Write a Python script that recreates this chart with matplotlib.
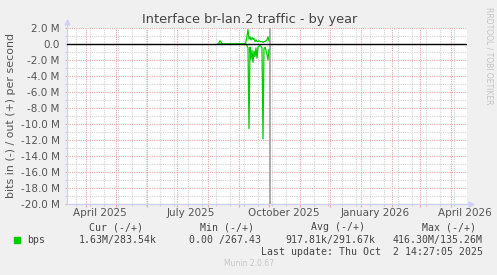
import numpy as np
import matplotlib
matplotlib.use('Agg')
import matplotlib.pyplot as plt
import matplotlib.dates as mdates
from matplotlib.ticker import FuncFormatter, MultipleLocator

# daily samples in bits per second; "in" is drawn below zero
days = ['2025-08-11', '2025-08-12', '2025-08-13', '2025-08-14', '2025-08-15',
        '2025-09-07', '2025-09-08', '2025-09-09', '2025-09-10', '2025-09-11',
        '2025-09-12', '2025-09-13', '2025-09-14', '2025-09-15', '2025-09-16',
        '2025-09-17', '2025-09-18', '2025-09-19', '2025-09-20', '2025-09-21',
        '2025-09-22', '2025-09-23', '2025-09-24', '2025-09-25', '2025-09-26',
        '2025-09-27', '2025-09-28', '2025-09-29', '2025-09-30', '2025-10-01']
out_mbps = [0.0, 0.15, 0.4, 0.25, 0.0,
            0.0, 0.3, 1.0, 1.8, 0.6,
            0.9, 0.5, 0.8, 0.6, 0.7,
            0.3, 0.5, 0.3, 0.3, 0.4,
            0.3, 0.3, 0.3, 0.2, 0.3,
            0.3, 0.4, 0.5, 0.9, 0.4]
in_mbps = [0.0, 0.0, 0.0, 0.0, 0.0,
           0.0, 0.0, 0.2, 0.5, 10.6,
           0.4, 1.9, 0.8, 2.3, 0.9,
           1.6, 0.5, 1.8, 0.4, 0.3,
           0.2, 0.3, 0.5, 11.9, 0.6,
           0.4, 0.8, 1.3, 2.0, 0.7]

x_start = '2025-03-13'
x_end = '2026-04-17'
last_update = '2025-10-02'
month_labels = ['April 2025', 'July 2025', 'October 2025', 'January 2026', 'April 2026']
label_days = ['2025-04-15', '2025-07-15', '2025-10-16', '2026-01-15', '2026-04-15']
legend_heads = ['Cur (-/+)', 'Min (-/+)', 'Avg (-/+)', 'Max (-/+)']
legend_vals = ['1.63M/283.54k', '0.00 /267.43', '917.81k/291.67k', '416.30M/135.26M']
update_text = 'Last update: Thu Oct  2 14:27:05 2025'

plt.rcParams['axes.unicode_minus'] = False
plt.rcParams['font.family'] = 'DejaVu Sans'

W, H = 497, 275
fig = plt.figure(figsize=(W / 100, H / 100), dpi=100, facecolor='#F0F0F0')
ax = fig.add_axes([67 / W, 1 - 203.5 / H, 400 / W, 175.5 / H])
ax.set_facecolor('white')

d = np.array(days, dtype='datetime64[D]').astype('O')
out_v = np.array(out_mbps) * 1e6
in_v = np.array(in_mbps) * 1e6

ax.plot(d, out_v, color='#00CC00', lw=0.9, zorder=4)
ax.plot(d, -in_v, color='#00CC00', lw=0.9, zorder=4)
ax.axhline(0, color='black', lw=1.0, zorder=5)
ax.axvline(np.datetime64(last_update).astype('O'), color='#A0A0A0', lw=1.2, zorder=3)

ax.set_xlim(np.datetime64(x_start).astype('O'), np.datetime64(x_end).astype('O'))
ax.set_ylim(-20e6, 2e6)

ax.yaxis.set_major_locator(MultipleLocator(2e6))
ax.yaxis.set_minor_locator(MultipleLocator(1e6))
ax.yaxis.set_major_formatter(FuncFormatter(
    lambda v, p: '0.0' if abs(v) < 1 else '%.1f M' % (v / 1e6)))

ax.xaxis.set_major_locator(mdates.MonthLocator())
minor = np.arange(np.datetime64('2025-03-22'), np.datetime64(x_end), 14).astype('O')
ax.set_xticks(minor, minor=True)
ax.xaxis.set_major_formatter(FuncFormatter(lambda v, p: ''))

ax.grid(which='major', color='#E6A8A8', ls=(0, (1, 1)), lw=0.8)
ax.grid(which='minor', color='#D4D4D4', ls=(0, (1, 1)), lw=0.8)
ax.set_axisbelow(True)

ax.tick_params(axis='y', which='major', length=1.5, width=0.8, color='#E6A8A8',
               labelsize=7.5, labelcolor='#555555', pad=3.8)
ax.tick_params(axis='y', which='minor', length=1.5, width=0.8, color='#C8C8C8')
ax.tick_params(axis='x', which='major', length=2.5, width=0.8, color='#E6A8A8')
ax.tick_params(axis='x', which='minor', length=1.5, width=0.8, color='#C8C8C8')

for s in ['top', 'right']:
    ax.spines[s].set_visible(False)
for s in ['left', 'bottom']:
    ax.spines[s].set_color('#D0D0F8')
    ax.spines[s].set_linewidth(1.0)

# axis arrows
ax.plot([0, 0], [1, 1.03], color='#D0D0F8', lw=1, transform=ax.transAxes, clip_on=False)
ax.plot(0, 1.032, marker='^', ms=3.5, color='#D0D0F8', transform=ax.transAxes, clip_on=False)
ax.plot([1, 1.008], [0, 0], color='#D0D0F8', lw=1, transform=ax.transAxes, clip_on=False)
ax.plot(1.01, 0, marker='>', ms=3.5, color='#D0D0F8', transform=ax.transAxes, clip_on=False)

tr = ax.get_xaxis_transform()
for lab, dd in zip(month_labels, label_days):
    ax.text(np.datetime64(dd).astype('O'), -0.055, lab, transform=tr, ha='center',
            va='center', fontsize=7.5, color='#555555', clip_on=False)

def fx(x):
    return x / W

def fy(y):
    return 1 - y / H

fig.text(fx(250), fy(19), 'Interface br-lan.2 traffic - by year', ha='center',
         va='center', fontsize=9.3, color='#444444')
fig.text(fx(11), fy(115), 'bits in (-) / out (+) per second', rotation=90,
         ha='center', va='center', fontsize=7.9, color='#555555')
fig.text(fx(489), fy(56), 'RRDTOOL / TOBI OETIKER', rotation=270, ha='center',
         va='center', fontsize=5.5, color='#C4C4C4')

mono = 'DejaVu Sans Mono'
head_x = [116, 227, 338, 449]
val_right = [157, 261, 375, 483]
for h, x in zip(legend_heads, head_x):
    fig.text(fx(x), fy(227), h, ha='center', va='center', family=mono,
             fontsize=7.1, color='#444444')
fig.patches.append(plt.Rectangle((fx(14), fy(243)), 6 / W, 6 / H, color='#00CC00',
                                 transform=fig.transFigure, figure=fig))
fig.text(fx(27), fy(240), 'bps', ha='left', va='center', family=mono,
         fontsize=7.1, color='#444444')
for v, x in zip(legend_vals, val_right):
    fig.text(fx(x), fy(240), v, ha='right', va='center', family=mono,
             fontsize=7.1, color='#444444')
fig.text(fx(483), fy(252), update_text, ha='right', va='center', family=mono,
         fontsize=7.1, color='#444444')
fig.text(fx(249), fy(264), 'Munin 2.0.67', ha='center', va='center',
         fontsize=5.5, color='#C8C8C8')

fig.savefig('out.png', dpi=100, facecolor=fig.get_facecolor())
